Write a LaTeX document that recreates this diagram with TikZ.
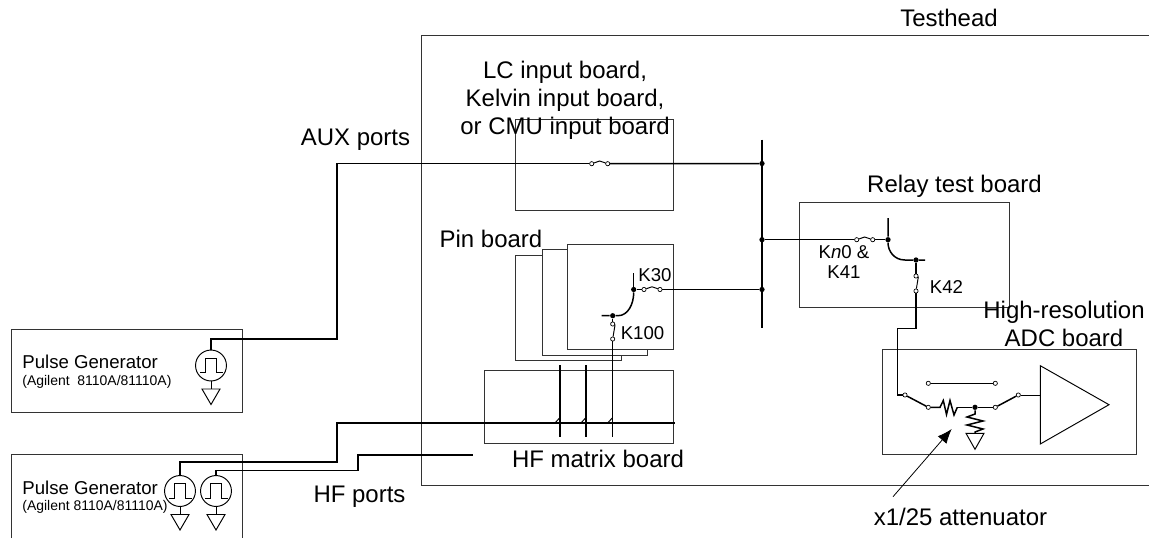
\documentclass[tikz,border=0pt]{standalone}
\usepackage{fontspec}
\setmainfont{Liberation Sans}
\usepackage{tikz}
\usetikzlibrary{calc,arrows.meta}
\definecolor{boxLine}{HTML}{333333}
\tikzset{
  boardbox/.style={rectangle, draw=boxLine, fill=white, line width=0.55pt, inner sep=0pt},
  boxline/.style={draw=boxLine, line width=0.55pt},
  wire/.style={draw=black, line width=0.85pt},
  thinwire/.style={draw=black, line width=0.55pt},
  contact/.style={circle, draw=black, fill=white, line width=0.4pt, minimum size=2.4pt, inner sep=0pt},
  junction/.style={circle, fill=black, minimum size=3pt, inner sep=0pt},
  source/.style={circle, draw=black, fill=white, line width=0.55pt, minimum size=17.6pt, inner sep=0pt},
  biglabel/.style={font=\fontsize{13.65}{15.9}\selectfont, align=center, inner sep=0pt},
  midlabel/.style={font=\fontsize{10.6}{11.6}\selectfont, align=center, inner sep=0pt},
  smalllabel/.style={font=\fontsize{7.95}{9}\selectfont, anchor=west, inner sep=0pt},
  arrowline/.style={-{Latex[length=2.9mm,width=2.3mm]}, draw=black, line width=0.45pt},
}
\begin{document}
\begin{tikzpicture}[x=0.02cm,y=-0.02cm]
  \useasboundingbox (0,0) rectangle (1149,538);

  % --- testhead and instrument outlines ---
  \coordinate (thTR) at (1149,35);
  \coordinate (thBR) at (1149,485.5);
  \draw[boxline] (thTR) -- (421,35) -- (421,485.5) -- (thBR);
  \node[boardbox, minimum width=4.62cm, minimum height=1.67cm] (pgA) at (126.75,370.75) {};
  \coordinate (pgBL) at (11.5,538);
  \coordinate (pgBR) at (242,538);
  \draw[boxline] (pgBL) -- (11.5,454.5) -- (242,454.5) -- (pgBR);

  % --- boards ---
  \node[boardbox, minimum width=3.15cm, minimum height=1.83cm] (lcBoard) at (594.5,165) {};
  \node[boardbox, minimum width=2.11cm, minimum height=2.10cm] (pinC) at (568.4,307.5) {};
  \node[boardbox, minimum width=2.10cm, minimum height=2.12cm] (pinB) at (594.5,302) {};
  \node[boardbox, minimum width=2.11cm, minimum height=2.09cm] (pinA) at (620.4,297) {};
  \node[boardbox, minimum width=3.78cm, minimum height=1.45cm] (hfBoard) at (578.5,407) {};
  \node[boardbox, minimum width=4.20cm, minimum height=2.09cm] (relayBoard) at (904,255) {};
  \node[boardbox, fill=none, minimum width=5.07cm, minimum height=2.10cm] (adcBoard) at (1009.5,402) {};

  % --- labels ---
  \node[biglabel] (lblTest) at (949,18) {Testhead};
  \node[biglabel] (lblLC) at (565,100) {LC input board,\\Kelvin input board,\\or CMU input board};
  \node[biglabel] (lblAux) at (355.5,140) {AUX ports};
  \node[biglabel] (lblPin) at (491,239) {Pin board};
  \node[biglabel] (lblRelay) at (954.5,186) {Relay test board};
  \node[biglabel] (lblAdc) at (1064,324) {High-resolution\\ADC board};
  \node[biglabel] (lblHf) at (598,458.5) {HF matrix board};
  \node[biglabel] (lblPorts) at (359.5,497) {HF ports};
  \node[biglabel] (lblAtt) at (960.5,516.5) {x1/25 attenuator};
  \node[midlabel] (lblKa) at (655,275) {K30};
  \node[midlabel] (lblKb) at (642.5,333) {K100};
  \node[midlabel] (lblKc) at (844,262) {K\textit{n}0 \&\\K41};
  \node[midlabel] (lblKd) at (946.5,286.5) {K42};
  \node[midlabel, anchor=west] (lblPgA) at (22,362) {Pulse Generator};
  \node[midlabel, anchor=west] (lblPgB) at (22,488) {Pulse Generator};
  \node[smalllabel] (lblPgAs) at (22,381.5) {(Agilent\ \ 8110A/81110A)};
  \node[smalllabel] (lblPgBs) at (22,507) {(Agilent 8110A/81110A)};

  % --- pulse sources with their grounds ---
  \foreach \n/\cx/\cy in {a/211/365.5,b/180/491,c/216/491} {
    \node[source] (src\n) at (\cx,\cy) {};
    \coordinate (gnd\n) at (\cx,\cy+23.5);
    \draw[thinwire] (src\n.south) -- (gnd\n);
    \draw[thinwire] (gnd\n) -- ++(-9,0) -- ++(9,15.5) -- ++(9,-15.5) -- cycle;
    \draw[thinwire] (\cx-11,\cy+7) -- ++(5.5,0) -- ++(0,-14.5) -- ++(11,0) -- ++(0,14.5) -- ++(6,0);
  }

  % --- contacts and junctions ---
  \foreach \n/\cx/\cy in {lcL/591.7/163.7,lcR/607.7/163.7,kaL/644/289.5,kaR/660/289.5,
      kbT/612.7/324,kbB/612.7/339,kcL/856.7/239.7,kcR/872.7/239.7,kdT/916/276,kdB/916/291,
      adcA/905/395,adcB/928.3/407.3,adcC/995.3/407.3,adcD/1018.3/395,adcE/928.3/383.3,adcF/995.3/383.3} {
    \node[contact] (\n) at (\cx,\cy) {};
  }
  \foreach \n/\cx/\cy in {busA/762/163.5,busB/762/239.7,busC/762/289.5,jKa/633.7/289.5,jKb/612.7/315.7,
      jKc/888/239.7,jKd/916/260,jAtt/975/407.3} {
    \node[junction] (\n) at (\cx,\cy) {};
  }

  % --- tilted relay blades ---
  \foreach \a/\b in {lcL/lcR,kaL/kaR,kcL/kcR} {
    \draw[thinwire] (\a) -- ($(\a)!0.5!(\b)+(0,-2.7)$) -- (\b);
  }
  \foreach \a/\b in {kbB/kbT,kdB/kdT} {
    \draw[thinwire] (\a) -- ($(\b)+(2.3,1)$) -- (\b);
  }

  % --- bus and AUX path ---
  \coordinate (busTop) at (762,139.5);
  \coordinate (busEnd) at (762,328);
  \draw[wire] (busTop) -- (busEnd);
  \draw[wire] (srca.north) |- (337,339) |- (lcL);
  \draw[wire] (lcR) -- (busA);

  % --- HF paths and matrix crossings ---
  \coordinate (hfEnd) at (675,423);
  \coordinate (portEnd) at (473,455);
  \draw[wire] (srcb.north) |- (337,462) |- (hfEnd);
  \draw[wire] (srcc.north) |- (358,470.7) |- (portEnd);
  \foreach \n/\cx in {x/560,y/586,z/612.7} {
    \coordinate (cr\n) at (\cx,423);
    \draw[wire] (\cx,365) -- (\cx,436.7);
    \draw[thinwire] (\cx-5,423) -- (\cx-0.5,418);
  }

  % --- pin board relays ---
  \draw[wire] (crz) -- (kbB);
  \draw[wire] (kbT) -- (jKb);
  \draw[wire] (601.7,315.7) -- (jKb) -- (618,315.7) .. controls (628,315.7) and (633.7,304) .. (jKa);
  \draw[wire] (633.7,273) -- (jKa) -- (kaL);
  \draw[wire] (kaR) -- (busC);

  % --- relay test board ---
  \draw[wire] (busB) -- (kcL);
  \draw[wire] (kcR) -- (jKc);
  \draw[wire] (888,218) -- (jKc) .. controls (888,251) and (894,260) .. (905,260) -- (jKd) -- (925,260);
  \draw[wire] (jKd) -- (kdT);
  \draw[wire] (kdB) -- (916,328.3) -- (897.7,328.3) -- (897.7,395) -- (adcA);

  % --- ADC input with attenuator ---
  \draw[wire] (adcA) -- (adcB);
  \draw[wire] (adcE) -- (adcF);
  \draw[wire] (adcC) -- (adcD);
  \draw[wire] (adcB) -- (940,407.3) -- (943.3,400.5) -- (946.5,414.5) -- (950,400.5) -- (954,415) -- (957.3,407.3);
  \draw[wire] (957.3,407.3) -- (jAtt) -- (adcC);
  \coordinate (amp) at (1040.3,395);
  \draw[thinwire] (adcD) -- (amp);
  \draw[thinwire] (1040.3,365.7) -- (1109,404.7) -- (1040.3,444) -- cycle;
  \draw[wire] (jAtt) -- (975,414) -- (967,417) -- (983,421) -- (967,425) -- (983,429) -- (975,432) -- (975,433.3);
  \draw[thinwire] (975,433.3) -- ++(-9,0) -- ++(9,16) -- ++(9,-16) -- cycle;

  % --- attenuator pointer ---
  \coordinate (attTail) at (893,496.7);
  \coordinate (attHead) at (951.7,429);
  \draw[arrowline] (attTail) -- (attHead);
\end{tikzpicture}
\end{document}
